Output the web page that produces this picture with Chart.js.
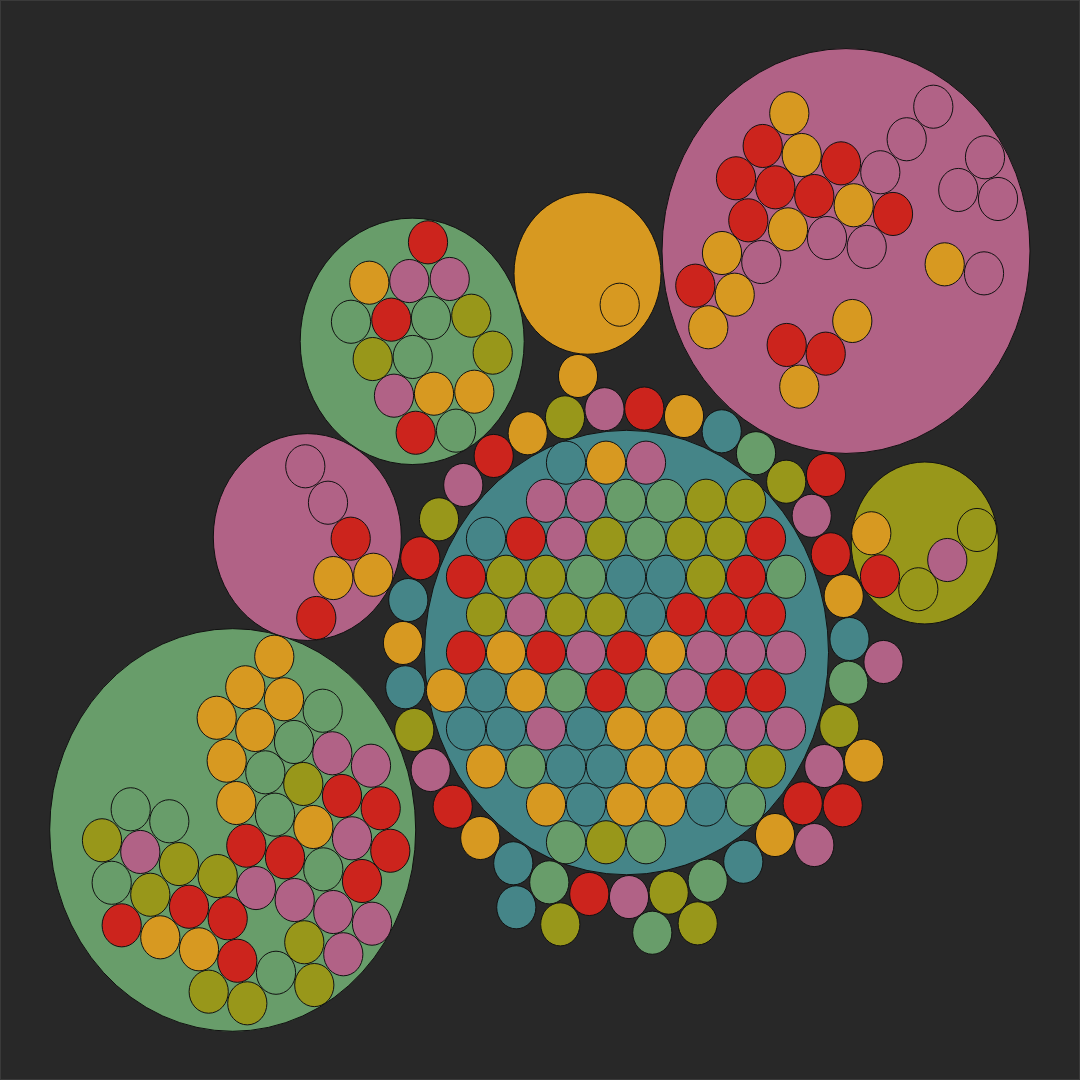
<!DOCTYPE html>
<html>
<head>
<meta charset="utf-8">
<script src="https://cdn.jsdelivr.net/npm/chart.js@4.4.1/dist/chart.umd.min.js"></script>
<style>
  html, body { margin: 0; padding: 0; background: #282828; }
  #wrap { width: 1080px; height: 1080px; }
</style>
</head>
<body>
<div id="wrap"><canvas id="c" width="1080" height="1080"></canvas></div>
<script>
// Data space: circles are round in data units; the y axis spans fewer units, so shapes are stretched vertically.
const X_MAX = 1080;
const Y_MAX = 981.8;

// Large group bubbles
const groupLabels = ['purple', 'aqua', 'yellow', 'purple', 'green', 'aqua', 'blue'];
const groupX = [846, 412.2, 587.5, 307.3, 924.8, 232.7, 626.5];
const groupY = [228.2, 310.3, 248.5, 488.2, 493.6, 754.5, 593.2];
const groupR = [184, 112, 73.5, 94, 73.6, 183, 202];

// Small bubbles, one list per colour: [x, y]
const itemR = 19.6;
const redItems = [
  [762.7,132.7],[841,148.5],[736,162.1],[775.3,170.3],[814.3,178.2],[893,194.5],[748.3,200.3],[695.3,259.7],[786.7,313.6],[825.7,321.5],
  [428,220.3],[391.3,290.6],[415.7,393.4],
  [350.7,489.7],[316.3,561.8],
  [880,523.9],
  [342,723.6],[380.7,734.8],[390.3,773.4],[246.3,768.8],[285,779.4],[362,800.9],[237.3,873.4],[227.7,834.8],[189,824.3],[121.7,841.2],
  [526,489.7],[766,489.7],[466,524.3],[746,524.3],[686,558.6],[726,558.6],[766,558.6],[466,593.2],[546,593.2],[626,593.2],[606,627.7],[726,627.7],[766,627.7],
  [644.3,371.4],[826,431.8],[830.8,503.9],[802.7,730.3],[842.7,732.1],[589.3,812.7],[452.7,733.4],[420.3,507.5],[493.7,414.5]
];
const yellowItems = [
  [789.3,103],[801.7,140.9],[853.7,186.6],[788,208.5],[722,230],[734.7,267.9],[708.3,297.5],[944.7,240.3],[852.3,291.8],[799.3,351.5],
  [369.3,257],[434,357.9],[474.3,356.1],
  [619.7,277],
  [333.3,525.5],[373.3,522.5],
  [871.3,484.8],
  [274.3,597],[245.3,624.8],[284,635.7],[216.7,652.5],[255.3,663.6],[226.7,691.5],[236.3,730],[313.3,751.8],[199,863],[160.3,852.1],
  [606,420.6],[506,593.2],[666,593.2],[446,627.7],[526,627.7],[626,662.3],[666,662.3],[486,696.8],[646,696.8],[686,696.8],[546,731.4],[626,731.4],[666,731.4],
  [578,341.8],[684,378.2],[843.7,541.8],[864,691.5],[775,759.1],[480.3,761.8],[403,584.5],[527.7,393.9]
];
const purpleItems = [
  [880.3,156.6],[906.7,126.6],[933.3,97],[985,143],[958.3,172.7],[998,180.9],[827,216.4],[866.7,224.5],[761.3,238.2],[984,248.5],
  [409.3,255.5],[449.7,253.6],[394,359.7],
  [305.3,423.9],[328,457],
  [947.3,509.1],
  [332.3,684.8],[371,696.1],[352,762.1],[256,807.3],[294.7,818.2],[333.3,829.1],[372,839.7],[343.3,867.5],[140.3,774.5],
  [646,420.6],[546,455.2],[586,455.2],[566,489.7],[526,558.6],[586,593.2],[706,593.2],[746,593.2],[786,593.2],[686,627.7],[546,662.3],[746,662.3],[786,662.3],
  [604.5,372],[811.7,468.9],[883.5,601.8],[824.3,696.4],[814.3,768.2],[629,815.5],[430.7,700],[463.3,440.9]
];
const aquaItems = [
  [351,292.5],[431,289.1],[412.7,324.5],[456,391.5],
  [322.7,646.1],[294,674.5],[265.3,702.1],[275,740.6],[323.3,790.3],[276,884.3],[111.7,802.5],[130.7,735.7],[169.3,746.6],
  [626,455.2],[666,455.2],[646,489.7],[586,524.3],[786,524.3],[566,627.7],[646,627.7],[706,662.3],[526,696.8],[726,696.8],[746,731.4],[566,765.7],[646,765.7],
  [756,412],[848.3,620.6],[707.7,800.6],[652.3,847.9],[549.3,802.1]
];
const greenItems = [
  [471.3,287],[492.7,320.6],[372.7,326.4],
  [918.3,535.7],[977,481.8],
  [303.3,712.7],[304.3,856.6],[314.3,895.5],[208.7,901.5],[247.3,912.1],[217.7,796.4],[150.3,813.4],[179,785.5],[102,763.9],
  [706,455.2],[746,455.2],[606,489.7],[686,489.7],[726,489.7],[506,524.3],[546,524.3],[706,524.3],[486,558.6],[566,558.6],[606,558.6],[766,696.8],[606,765.7],
  [565,379.4],[786.2,437.9],[839.3,660],[668.7,811.5],[697.7,839.4],[560.3,840.3],[414.3,663.6],[439,472.1]
];
const blueItems = [
  [566,420.6],[486,489.7],[626,524.3],[666,524.3],[646,558.6],[486,627.7],[466,662.3],[506,662.3],[586,662.3],[566,696.8],[606,696.8],[586,731.4],[706,731.4],
  [721.7,392.1],[849.5,580.9],[743.3,783.4],[516.3,824.8],[513.3,784.8],[405.3,624.8],[408.3,545.5]
];

const palette = {
  red: '#cc241d', yellow: '#d79921', purple: '#b16286',
  aqua: '#689d6a', green: '#98971a', blue: '#458588'
};

const toItems = (list) => list.map(p => ({ x: p[0], y: p[1], r: itemR }));

const datasets = [
  {
    label: 'groups',
    data: groupX.map((x, i) => ({ x, y: groupY[i], r: groupR[i] })),
    backgroundColor: groupLabels.map(c => palette[c])
  },
  { label: 'red', data: toItems(redItems), backgroundColor: palette.red },
  { label: 'yellow', data: toItems(yellowItems), backgroundColor: palette.yellow },
  { label: 'purple', data: toItems(purpleItems), backgroundColor: palette.purple },
  { label: 'aqua', data: toItems(aquaItems), backgroundColor: palette.aqua },
  { label: 'green', data: toItems(greenItems), backgroundColor: palette.green },
  { label: 'blue', data: toItems(blueItems), backgroundColor: palette.blue }
].map(d => Object.assign(d, { borderColor: '#111111', borderWidth: 1 }));

const bgPlugin = {
  id: 'bg',
  beforeDraw(chart) {
    const ctx = chart.ctx;
    ctx.save();
    ctx.fillStyle = '#282828';
    ctx.fillRect(0, 0, chart.width, chart.height);
    ctx.strokeStyle = '#3a3a3a';
    ctx.lineWidth = 1;
    ctx.strokeRect(0.5, 0.5, chart.width - 1, chart.height - 1);
    ctx.restore();
  }
};

// Draw each bubble as an ellipse whose radii come from the x and y scales.
const ellipsePlugin = {
  id: 'ellipses',
  beforeDatasetsDraw(chart) {
    const ctx = chart.ctx;
    const xs = chart.scales.x, ys = chart.scales.y;
    ctx.save();
    chart.data.datasets.forEach(ds => {
      ds.data.forEach((p, i) => {
        const cx = xs.getPixelForValue(p.x);
        const cy = ys.getPixelForValue(p.y);
        const rx = Math.abs(xs.getPixelForValue(p.x + p.r) - cx);
        const ry = Math.abs(ys.getPixelForValue(p.y + p.r) - cy);
        ctx.beginPath();
        ctx.ellipse(cx, cy, rx, ry, 0, 0, Math.PI * 2);
        ctx.fillStyle = Array.isArray(ds.backgroundColor) ? ds.backgroundColor[i] : ds.backgroundColor;
        ctx.fill();
        ctx.lineWidth = ds.borderWidth;
        ctx.strokeStyle = ds.borderColor;
        ctx.stroke();
      });
    });
    ctx.restore();
    return false;
  }
};

new Chart(document.getElementById('c'), {
  type: 'bubble',
  data: { datasets },
  options: {
    responsive: false,
    animation: false,
    events: [],
    layout: { padding: 0, autoPadding: false },
    plugins: { legend: { display: false }, tooltip: { enabled: false } },
    scales: {
      x: { type: 'linear', min: 0, max: X_MAX, display: false },
      y: { type: 'linear', min: 0, max: Y_MAX, reverse: true, display: false }
    }
  },
  plugins: [bgPlugin, ellipsePlugin]
});
</script>
</body>
</html>
